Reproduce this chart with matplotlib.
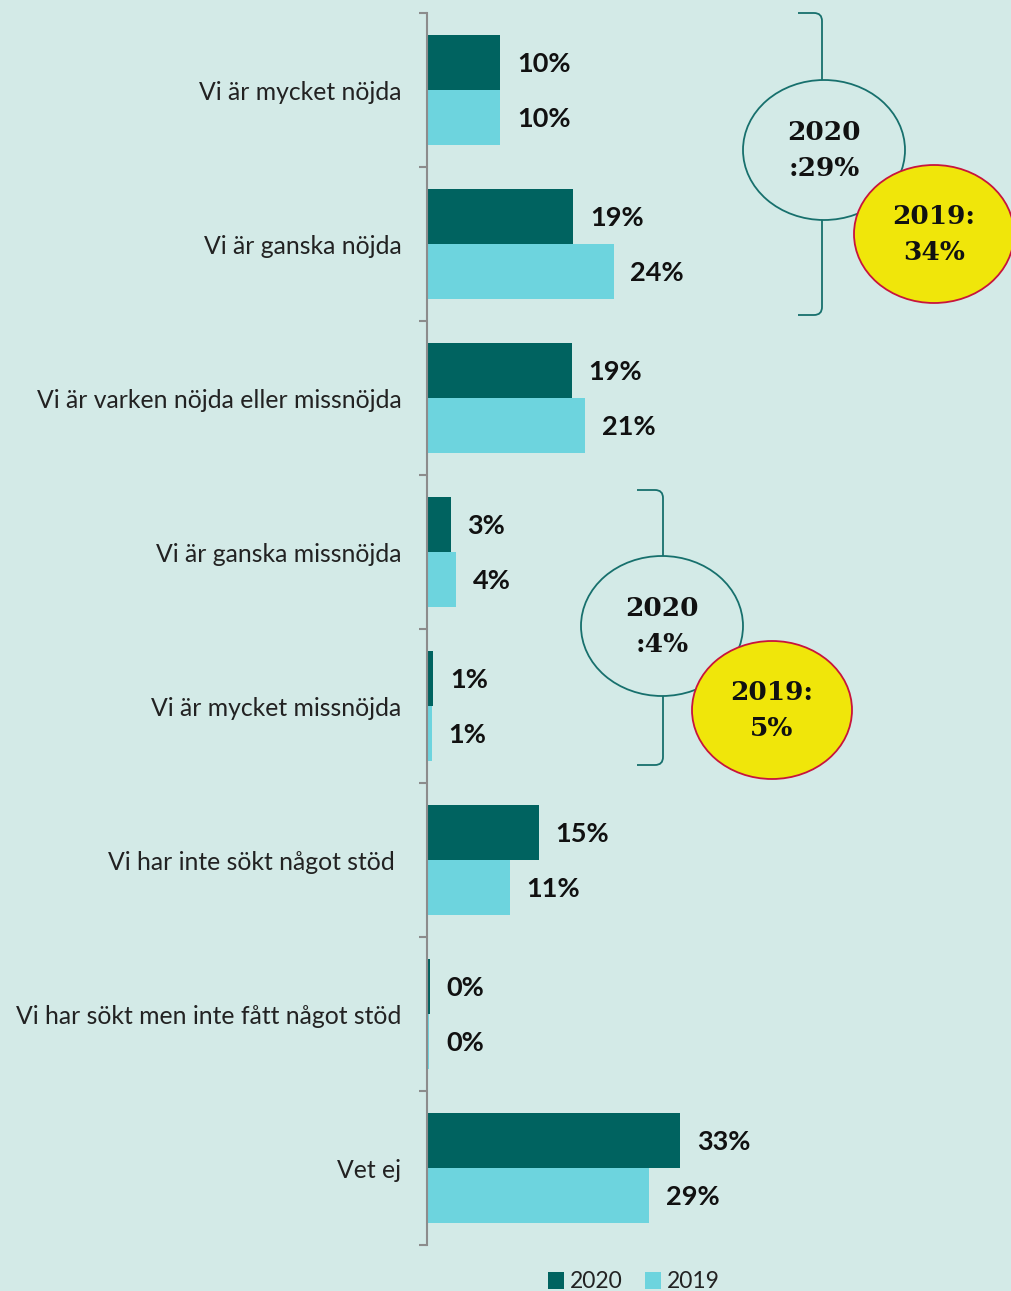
import matplotlib
matplotlib.use("Agg")
import matplotlib.pyplot as plt
from matplotlib.patches import Ellipse
from matplotlib.path import Path
from matplotlib.patches import PathPatch
import numpy as np

categories = [
    "Vi är mycket nöjda",
    "Vi är ganska nöjda",
    "Vi är varken nöjda eller missnöjda",
    "Vi är ganska missnöjda",
    "Vi är mycket missnöjda",
    "Vi har inte sökt något stöd ",
    "Vi har sökt men inte fått något stöd",
    "Vet ej",
]
values_2020 = [9.6, 19.1, 18.9, 3.1, 0.8, 14.6, 0.4, 33.1]
values_2019 = [9.6, 24.4, 20.7, 3.8, 0.6, 10.8, 0.3, 29.0]
labels_2020 = ["10%", "19%", "19%", "3%", "1%", "15%", "0%", "33%"]
labels_2019 = ["10%", "24%", "21%", "4%", "1%", "11%", "0%", "29%"]
series_names = ["2020", "2019"]
circle_texts = [("2020\n:29%", "2019:\n34%"), ("2020\n:4%", "2019:\n5%")]

BG = "#d3eae7"
DARK = "#006360"
LIGHT = "#6dd4de"
W, H = 1012, 1291

fig = plt.figure(figsize=(W / 100, H / 100), dpi=100, facecolor=BG)
ax = fig.add_axes([427 / W, 1 - 1245 / H, 1 - 427 / W, 1232 / H])
ax.set_facecolor(BG)

y = np.arange(len(categories))
bh = 0.357
ax.barh(y - bh / 2, values_2020, height=bh, color=DARK, label=series_names[0])
ax.barh(y + bh / 2, values_2019, height=bh, color=LIGHT, label=series_names[1])

ax.set_xlim(0, (W - 427) / 7.65)
ax.set_ylim(len(categories) - 0.5, -0.5)

lab_font = dict(family=["Lato", "DejaVu Sans"], fontsize=19.5, fontweight="bold", color="#111111")
for i in range(len(categories)):
    ax.annotate(labels_2020[i], (values_2020[i], y[i] - bh / 2), xytext=(12, -1),
                textcoords="offset points", va="center", ha="left", **lab_font)
    ax.annotate(labels_2019[i], (values_2019[i], y[i] + bh / 2), xytext=(12, -1),
                textcoords="offset points", va="center", ha="left", **lab_font)

ax.set_yticks(y)
ax.set_yticklabels(categories, family=["Lato", "DejaVu Sans"], fontsize=17.8, color="#222222")
ax.tick_params(axis="y", which="major", length=0, pad=18.5)
ax.set_yticks(np.arange(-0.5, len(categories), 1.0), minor=True)
ax.tick_params(axis="y", which="minor", length=6, width=1.5, color="#8c8c8c", direction="out")
ax.set_xticks([])
for s in ["top", "right", "bottom"]:
    ax.spines[s].set_visible(False)
ax.spines["left"].set_color("#8c8c8c")
ax.spines["left"].set_linewidth(1.5)

leg = fig.legend(loc="center", bbox_to_anchor=(634 / W, 1 - 1282 / H), ncol=2, frameon=False,
                 prop={"family": ["Lato", "DejaVu Sans"], "size": 16.5}, handlelength=0.7,
                 handleheight=0.7, handletextpad=0.25, columnspacing=1.0)
for t in leg.get_texts():
    t.set_color("#222222")

# overlay for annotations in pixel coords
ov = fig.add_axes([0, 0, 1, 1], facecolor="none")
ov.set_xlim(0, W)
ov.set_ylim(H, 0)
ov.axis("off")

TEAL = "#17706d"


def bracket(x_left, x_right, y_top, y_bot):
    r = 8
    verts = [(x_left, y_top), (x_right - r, y_top), (x_right, y_top), (x_right, y_top + r),
             (x_right, y_bot - r), (x_right, y_bot), (x_right - r, y_bot), (x_left, y_bot)]
    codes = [Path.MOVETO, Path.LINETO, Path.CURVE3, Path.CURVE3, Path.LINETO,
             Path.CURVE3, Path.CURVE3, Path.LINETO]
    ov.add_patch(PathPatch(Path(verts, codes), fill=False, ec=TEAL, lw=1.3))


circ_font = dict(family=["DejaVu Serif"], fontweight="bold", fontsize=19, color="#111111",
                 ha="center", va="center", linespacing=1.55)

groups = [
    dict(br=(798, 822, 13, 315), e1=(824, 150), e2=(934, 234)),
    dict(br=(637, 663, 490, 765), e1=(662, 626), e2=(772, 710)),
]
for g, (t1, t2) in zip(groups, circle_texts):
    bracket(*g["br"])
    ov.add_patch(Ellipse(g["e1"], 162, 140, fc=BG, ec=TEAL, lw=1.3, zorder=3))
    ov.text(g["e1"][0], g["e1"][1], t1, zorder=5, **circ_font)
    ov.add_patch(Ellipse(g["e2"], 160, 138, fc="#f0e60a", ec="#c8143c", lw=1.3, zorder=4))
    ov.text(g["e2"][0], g["e2"][1], t2, zorder=5, **circ_font)

fig.savefig("out.png", dpi=100, facecolor=BG)
